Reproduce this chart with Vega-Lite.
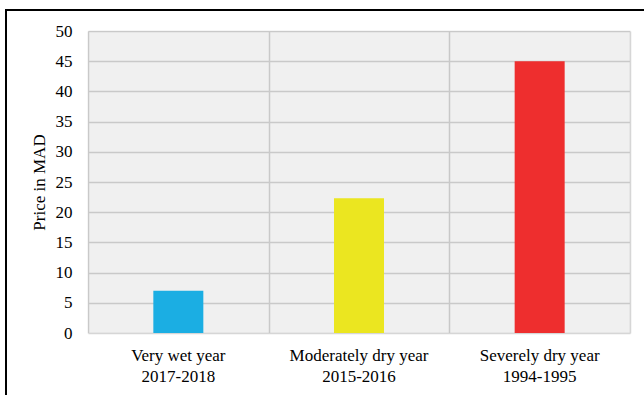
{
  "$schema": "https://vega.github.io/schema/vega-lite/v6.json",
  "autosize": "none",
  "width": 638,
  "height": 385,
  "padding": {"left": 6, "top": 10, "right": 0, "bottom": 0},
  "background": "white",
  "config": {
    "view": {"stroke": "black", "strokeWidth": 2, "strokeDash": [638, 1023, 385], "fill": null},
    "font": "Liberation Serif"
  },
  "data": {
    "values": [
      {"cat": "Very wet year|2017-2018", "price": 7, "color": "#1BAEE3"},
      {"cat": "Moderately dry year|2015-2016", "price": 22.3, "color": "#EBE620"},
      {"cat": "Severely dry year|1994-1995", "price": 45, "color": "#EE2E2E"}
    ]
  },
  "resolve": {"axis": {"x": "independent", "y": "independent"}},
  "layer": [
    {
      "mark": {"type": "bar", "color": "black", "fillOpacity": 0.06, "width": {"band": 1}},
      "encoding": {
        "x": {
          "field": "cat",
          "type": "nominal",
          "sort": null,
          "scale": {"type": "band", "range": [82, 624], "paddingInner": 0, "paddingOuter": 0},
          "axis": {
            "title": null,
            "orient": "top",
            "offset": 0,
            "domain": false,
            "ticks": false,
            "labels": false,
            "grid": true,
            "tickBand": "extent",
            "gridColor": "#d6d6d6",
            "gridWidth": 1.5
          }
        },
        "y": {
          "datum": 50,
          "type": "quantitative",
          "scale": {"domain": [0, 50], "nice": false, "range": [323, 21]},
          "axis": null
        }
      }
    },
    {
      "mark": {"type": "bar", "width": 50},
      "encoding": {
        "x": {
          "field": "cat",
          "type": "nominal",
          "sort": null,
          "axis": {
            "title": null,
            "orient": "bottom",
            "offset": -62,
            "domain": false,
            "ticks": false,
            "grid": false,
            "labelExpr": "split(datum.label, '|')",
            "labelFont": "Liberation Serif",
            "labelFontSize": 17,
            "labelColor": "black",
            "labelLineHeight": 21,
            "labelPadding": 14,
            "labelAngle": 0
          }
        },
        "y": {
          "field": "price",
          "type": "quantitative",
          "axis": {
            "title": "Price in MAD",
            "orient": "left",
            "offset": -82,
            "values": [0, 5, 10, 15, 20, 25, 30, 35, 40, 45, 50],
            "labelOverlap": false,
            "domain": false,
            "ticks": false,
            "grid": true,
            "gridColor": "#d6d6d6",
            "gridWidth": 1.5,
            "labelFont": "Liberation Serif",
            "labelFontSize": 17,
            "labelColor": "black",
            "labelPadding": 16,
            "titleFont": "Liberation Serif",
            "titleFontSize": 17,
            "titleFontWeight": "normal",
            "titleColor": "black",
            "titlePadding": 7
          }
        },
        "color": {"field": "color", "type": "nominal", "scale": null, "legend": null}
      }
    }
  ]
}
